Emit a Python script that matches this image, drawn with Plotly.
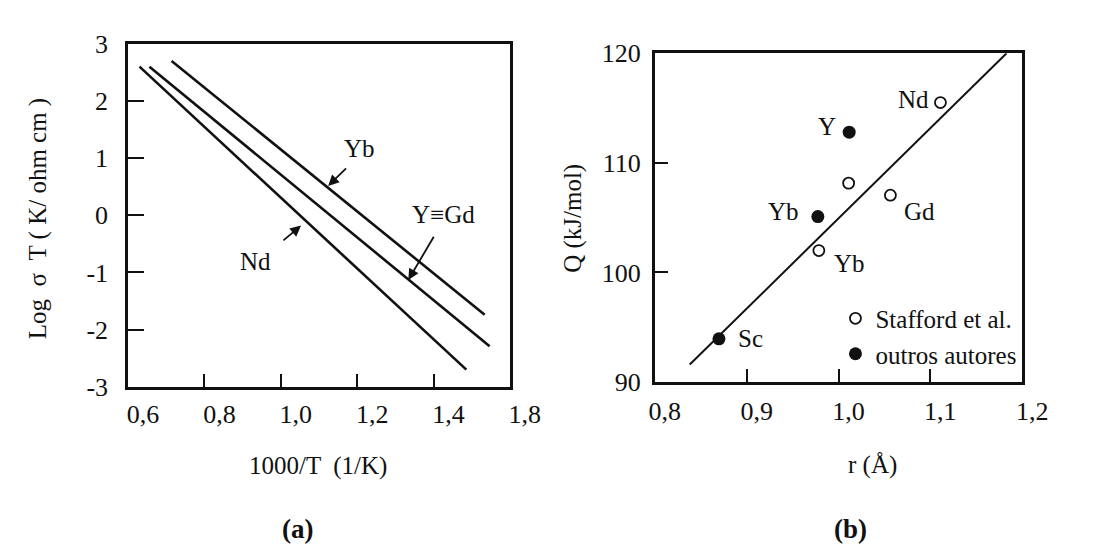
import plotly.graph_objects as go

# ---------------- Panel (a) data: Log(sigma T) vs 1000/T ----------------
a_series = ["Nd", "Y≡Gd", "Yb"]
a_x_start = [0.630, 0.656, 0.714]
a_x_end = [1.486, 1.547, 1.534]
a_y_start = [2.60, 2.60, 2.70]
a_y_end = [-2.70, -2.29, -1.74]

a_xtick_vals = [0.6, 0.8, 1.0, 1.2, 1.4, 1.6]
a_xtick_text = ["0,6", "0,8", "1,0", "1,2", "1,4", "1,8"]
a_ytick_vals = [-3, -2, -1, 0, 1, 2, 3]
a_ytick_text = ["-3", "-2", "-1", "0", "1", "2", "3"]

# annotation labels (text pos, arrow tail, arrow head) in data units
a_lab_text = ["Yb", "Y≡Gd", "Nd"]
a_lab_x = [1.205, 1.425, 0.934]
a_lab_y = [1.16, 0.02, -0.81]
a_tail_x = [1.175, 1.403, 1.003]
a_tail_y = [0.845, -0.35, -0.46]
a_head_x = [1.124, 1.334, 1.053]
a_head_y = [0.514, -1.13, -0.18]

# ---------------- Panel (b) data: Q vs r ----------------
stafford_r = [1.111, 1.011, 1.0565, 0.9786]
stafford_Q = [115.5, 108.15, 107.05, 102.0]
outros_r = [1.0116, 0.9775, 0.8698]
outros_Q = [112.8, 105.1, 93.95]
fit_r = [0.838, 1.183]
fit_Q = [91.6, 120.0]

b_xtick_vals = [0.8, 0.9, 1.0, 1.1, 1.2]
b_xtick_text = ["0,8", "0,9", "1,0", "1,1", "1,2"]
b_ytick_vals = [90, 100, 110, 120]

b_lab_text = ["Nd", "Y", "Gd", "Yb", "Yb", "Sc"]
b_lab_x = [1.082, 0.987, 1.088, 0.940, 1.012, 0.904]
b_lab_y = [115.8, 113.3, 105.6, 105.6, 100.8, 94.0]

FONT = "Liberation Serif, Times New Roman, serif"
INK = "#111111"

fig = go.Figure()

for name, x0, x1, y0, y1 in zip(a_series, a_x_start, a_x_end, a_y_start, a_y_end):
    fig.add_trace(go.Scatter(x=[x0, x1], y=[y0, y1], mode="lines", name=name,
                             line=dict(color=INK, width=2.6), showlegend=False,
                             xaxis="x", yaxis="y"))

fig.add_trace(go.Scatter(x=fit_r, y=fit_Q, mode="lines", line=dict(color=INK, width=2),
                         showlegend=False, xaxis="x2", yaxis="y2"))
fig.add_trace(go.Scatter(x=stafford_r, y=stafford_Q, mode="markers", name="Stafford et al.",
                         marker=dict(symbol="circle-open", size=11, color=INK, line=dict(width=1.8)),
                         xaxis="x2", yaxis="y2"))
fig.add_trace(go.Scatter(x=outros_r, y=outros_Q, mode="markers", name="outros autores",
                         marker=dict(symbol="circle", size=13, color=INK),
                         xaxis="x2", yaxis="y2"))

annotations = []
for t, x, y in zip(a_lab_text, a_lab_x, a_lab_y):
    annotations.append(dict(x=x, y=y, xref="x", yref="y", text=t, showarrow=False,
                            font=dict(family=FONT, size=25, color=INK)))
for tx, ty, hx, hy in zip(a_tail_x, a_tail_y, a_head_x, a_head_y):
    annotations.append(dict(x=hx, y=hy, ax=tx, ay=ty, xref="x", yref="y", axref="x", ayref="y",
                            text="", showarrow=True, arrowhead=2, arrowsize=1.2, arrowwidth=1.8,
                            arrowcolor=INK, standoff=0, startstandoff=0))
for t, x, y in zip(b_lab_text, b_lab_x, b_lab_y):
    annotations.append(dict(x=x, y=y, xref="x2", yref="y2", text=t, showarrow=False,
                            font=dict(family=FONT, size=25, color=INK)))

W, H = 1108, 553
def px(xp, yp):
    return xp / W, 1 - yp / H

for text, (xp, yp), ang, sz in [
    ("1000/T  (1/K)", (314, 469), 0, 25),
    ("r (Å)", (888, 467), 0, 25),
    ("<b>(a)</b>", (293, 535), 0, 27),
    ("<b>(b)</b>", (865, 535), 0, 27),
    ("Log  σ  T ( K/ ohm cm )", (25, 208), -90, 25),
    ("Q (kJ/mol)", (578, 207), -90, 25),
]:
    x, y = px(xp, yp)
    annotations.append(dict(x=x, y=y, xref="paper", yref="paper", text=text, showarrow=False,
                            textangle=ang, xanchor="center", yanchor="middle",
                            font=dict(family=FONT, size=sz, color=INK)))

axis_common = dict(showline=True, linecolor=INK, linewidth=2.6, mirror=True,
                   ticks="inside", tickcolor=INK, tickwidth=2, showgrid=False, zeroline=False,
                   tickfont=dict(family=FONT, size=26, color=INK))

fig.update_layout(
    width=W, height=H, margin=dict(l=0, r=0, t=0, b=0),
    paper_bgcolor="white", plot_bgcolor="white",
    font=dict(family=FONT, color=INK),
    xaxis=dict(domain=[118 / W, 513 / W], range=[0.6, 1.6], anchor="y",
               tickvals=a_xtick_vals, ticktext=a_xtick_text, ticklen=13,
               ticklabelshift=15, ticklabelstandoff=2, **axis_common),
    yaxis=dict(domain=[1 - 385 / H, 1 - 23 / H], range=[-3, 3], anchor="x",
               tickvals=a_ytick_vals, ticktext=a_ytick_text, ticklen=16,
               ticklabelstandoff=12, **axis_common),
    xaxis2=dict(domain=[663 / W, 1043 / W], range=[0.8, 1.2], anchor="y2",
                tickvals=b_xtick_vals, ticktext=b_xtick_text, ticklen=13,
                ticklabelshift=10, ticklabelstandoff=4, **axis_common),
    yaxis2=dict(domain=[1 - 380 / H, 1 - 33 / H], range=[90, 120], anchor="x2",
                tickvals=b_ytick_vals, ticklen=13, ticklabelstandoff=6, **axis_common),
    showlegend=True,
    legend=dict(x=0.767, y=0.478, xanchor="left", yanchor="top", bgcolor="rgba(0,0,0,0)",
                font=dict(family=FONT, size=25, color=INK), tracegroupgap=0),
    annotations=annotations,
)

fig.write_html("out.html")
